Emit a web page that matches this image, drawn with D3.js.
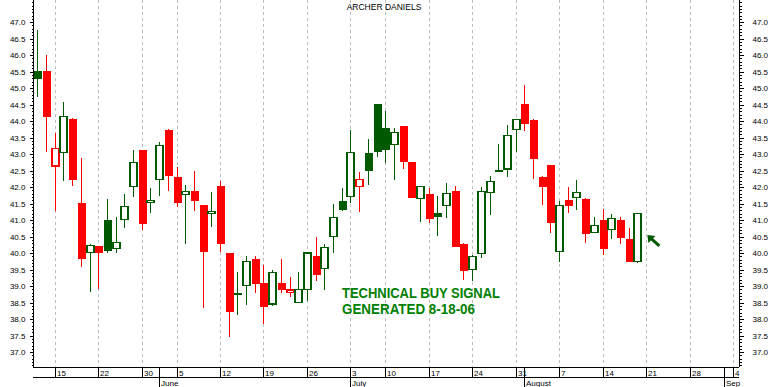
<!DOCTYPE html>
<html><head><meta charset="utf-8">
<script src="https://cdn.jsdelivr.net/npm/d3@7"></script>
<style>html,body{margin:0;padding:0;background:#fff;} svg{display:block;font-family:"Liberation Sans",Arial,sans-serif;}</style>
</head><body><svg id="c" width="770" height="387"></svg>
<script>
const dates = ["05-11","05-12","05-15","05-16","05-17","05-18","05-19","05-22","05-23","05-24","05-25","05-26","05-30","05-31",
"06-01","06-02","06-05","06-06","06-07","06-08","06-09","06-12","06-13","06-14","06-15","06-16","06-19","06-20","06-21","06-22","06-23","06-26","06-27","06-28","06-29","06-30",
"07-03","07-05","07-06","07-07","07-10","07-11","07-12","07-13","07-14","07-17","07-18","07-19","07-20","07-21","07-24","07-25","07-26","07-27","07-28","07-31",
"08-01","08-02","08-03","08-04","08-07","08-08","08-09","08-10","08-11","08-14","08-15","08-16","08-17","08-18"];
const opens = [45.52,45.52,42.64,43.05,44.06,41.52,40.02,40.21,41.00,40.14,41.02,42.02,43.12,41.54,
42.23,43.73,42.30,41.78,41.88,41.45,41.20,42.03,40.00,38.79,39.01,39.82,39.09,38.46,39.09,38.81,38.51,38.89,39.91,39.54,40.50,41.58,
41.72,42.02,43.03,44.52,43.79,43.29,43.85,42.76,41.66,41.78,41.23,41.45,41.88,40.27,39.51,39.99,41.84,42.52,42.55,43.75,
44.52,44.03,42.30,42.67,40.05,41.61,41.69,41.64,40.63,41.00,40.72,41.00,40.42,39.74];
const highs = [46.76,46.00,43.65,44.58,44.09,42.88,40.27,40.21,41.64,41.09,41.79,43.12,43.12,41.97,
43.36,43.76,42.61,42.06,42.48,41.45,41.85,42.18,40.00,39.42,39.90,39.90,39.65,39.50,39.82,39.27,39.42,40.02,40.48,40.27,41.48,41.97,
43.73,42.45,43.45,44.52,44.30,43.78,43.85,42.76,42.02,41.97,41.73,42.14,42.03,40.32,39.95,42.00,42.33,43.31,43.87,44.04,
45.09,44.06,42.33,42.67,41.59,42.00,42.21,41.67,41.09,41.33,41.18,41.09,40.76,41.23];
const lows = [44.74,43.07,41.28,42.19,42.04,39.58,38.83,38.91,40.01,40.01,40.77,41.71,40.70,41.22,
41.73,41.89,41.39,40.28,41.28,38.34,40.80,40.04,37.46,38.12,38.43,38.80,37.86,38.40,38.78,38.68,38.48,38.55,39.16,38.89,40.01,41.28,
41.52,41.25,42.07,42.92,42.74,42.23,42.55,41.66,40.95,40.92,40.52,41.07,40.20,39.19,39.16,39.86,41.16,42.45,42.32,43.07,
43.71,42.25,41.46,40.62,39.74,41.22,41.31,40.31,40.63,39.95,40.43,40.28,39.74,39.71];
const closes = [45.28,44.13,43.17,44.14,42.22,39.83,40.23,40.01,40.07,40.32,41.41,42.75,40.89,41.60,
43.26,42.34,41.52,41.87,41.58,40.04,41.26,40.28,38.22,38.74,39.75,39.06,38.36,39.41,38.89,38.88,38.90,40.00,39.34,40.17,41.09,41.31,
43.05,42.24,42.49,43.07,43.13,43.66,42.77,41.66,42.02,41.04,41.08,41.81,40.20,39.46,39.90,41.87,42.17,42.45,43.56,44.04,
43.92,42.86,42.01,40.92,41.45,41.43,41.84,40.59,40.84,40.13,41.05,40.46,39.74,41.20];
const priorClose = 45.20;
const futureDays = ["08-21","08-22","08-23","08-24","08-25","08-28","08-29","08-30","08-31","09-01","09-04"];
const weekTicks = ["05-15","05-22","05-30","06-05","06-12","06-19","06-26","07-03","07-10","07-17","07-24","07-31","08-07","08-14","08-21","08-28","09-04"];
const weekLabels = ["15","22","30","5","12","19","26","3","10","17","24","31","7","14","21","28","4"];
const monthStarts = ["06-01","07-03","08-01","09-01"];
const monthLabels = ["June","July","August","Sep"];
const title = "ARCHER DANIELS";
const noteLines = ["TECHNICAL BUY SIGNAL", "GENERATED 8-18-06"];

const GREEN = "#005a00", RED = "#ff0000", NOTE = "#008000";
const L = 33, R = 739, B = 367, B2 = 377;
const svg = d3.select("#c");
const allDays = dates.concat(futureDays);
const x = d3.scalePoint().domain(allDays).range([37.4, 733]);
const y = d3.scaleLinear().domain([36.55, 47.67]).range([B, 0]);

// gridlines
svg.append("g").selectAll("line").data(weekTicks).join("line")
  .attr("x1", d => Math.round(x(d)) + 0.5).attr("x2", d => Math.round(x(d)) + 0.5)
  .attr("y1", 0).attr("y2", B)
  .attr("stroke", "#bdbdbd").attr("stroke-dasharray", "3,3");

// y axes
const minor = d3.range(366, 477).map(v => v / 10);
const major = d3.range(74, 95).map(v => v / 2);
const fmt = d3.format(".1f");
function yAxes(axisFn, xpos, pad) {
  svg.append("g").attr("transform", `translate(${xpos + 0.5},0)`)
    .call(axisFn(y).tickValues(minor).tickSize(2).tickFormat(""))
    .call(g => g.select(".domain").remove());
  svg.append("g").attr("transform", `translate(${xpos + 0.5},0)`)
    .call(axisFn(y).tickValues(major).tickSize(4).tickPadding(pad).tickFormat(fmt))
    .call(g => g.select(".domain").remove())
    .call(g => g.selectAll("text").attr("font-size", 8).attr("fill", "#000").attr("font-family", "Liberation Sans, Arial"));
}
yAxes(d3.axisLeft, L, 4);
yAxes(d3.axisRight, R, 9);
svg.selectAll(".tick line").attr("stroke", "#000").attr("shape-rendering", "crispEdges");

// frame lines
const frame = svg.append("g").attr("stroke", "#000").attr("shape-rendering", "crispEdges");
frame.append("line").attr("x1", L + 0.5).attr("x2", L + 0.5).attr("y1", 0).attr("y2", B);
frame.append("line").attr("x1", R + 0.5).attr("x2", R + 0.5).attr("y1", 0).attr("y2", B);
frame.append("line").attr("x1", L).attr("x2", R).attr("y1", B + 0.5).attr("y2", B + 0.5);
frame.append("line").attr("x1", L).attr("x2", R).attr("y1", B2 + 0.5).attr("y2", B2 + 0.5);

// week ticks + labels
frame.selectAll(".wt").data(weekTicks).join("line")
  .attr("x1", d => Math.round(x(d)) + 0.5).attr("x2", d => Math.round(x(d)) + 0.5)
  .attr("y1", B).attr("y2", B2);
svg.append("g").selectAll("text").data(weekTicks).join("text")
  .attr("x", d => Math.round(x(d)) + 2).attr("y", B + 8.5)
  .attr("font-size", 8).text((d, i) => weekLabels[i]);
// month separators + labels
frame.selectAll(".ms").data(monthStarts).join("line")
  .attr("x1", d => Math.round(x(d)) + 0.5).attr("x2", d => Math.round(x(d)) + 0.5)
  .attr("y1", B).attr("y2", 387);
svg.append("g").selectAll("text").data(monthStarts).join("text")
  .attr("x", d => Math.round(x(d)) + 2).attr("y", B2 + 9)
  .attr("font-size", 8).text((d, i) => monthLabels[i]);

// title
svg.append("text").attr("x", 384).attr("y", 10).attr("text-anchor", "middle")
  .attr("font-size", 8.5).text(title);

// candles
const candles = dates.map((d, i) => {
  const prev = i === 0 ? priorClose : closes[i - 1];
  return {d, o: opens[i], h: highs[i], l: lows[i], c: closes[i],
    col: closes[i] >= prev ? GREEN : RED, filled: closes[i] < opens[i]};
});
const cg = svg.append("g").attr("shape-rendering", "crispEdges");
const cc = cg.selectAll("g").data(candles).join("g");
cc.append("line")
  .attr("x1", d => Math.round(x(d.d)) + 0.5).attr("x2", d => Math.round(x(d.d)) + 0.5)
  .attr("y1", d => y(d.h)).attr("y2", d => y(d.l))
  .attr("stroke", d => d.col).attr("stroke-width", 1);
cc.append("rect")
  .attr("x", d => Math.round(x(d.d)) - 3 + (d.filled ? -0.5 : 0))
  .attr("width", d => d.filled ? 8 : 7)
  .attr("y", d => y(Math.max(d.o, d.c)))
  .attr("height", d => Math.max(1.5, Math.abs(y(d.o) - y(d.c))))
  .attr("fill", d => d.filled ? d.col : "#fff")
  .attr("stroke", d => d.filled ? "none" : d.col)
  .attr("stroke-width", 1.3);

// note
svg.append("g").selectAll("text").data(noteLines).join("text")
  .attr("x", 342).attr("y", (d, i) => 297.5 + i * 16)
  .attr("font-size", 14.5).attr("font-weight", "bold").attr("fill", NOTE)
  .attr("textLength", (d, i) => i === 0 ? 158 : 133).attr("lengthAdjust", "spacingAndGlyphs")
  .text(d => d);

// arrow pointing to last candle
const last = candles[candles.length - 1];
const ax = x(last.d) + 10, ay = y(40.55);
svg.append("path")
  .attr("d", `M${ax},${ay} L${ax + 8},${ay + 1} L${ax + 1},${ay + 8} Z`)
  .attr("fill", GREEN);
svg.append("line").attr("x1", ax + 3).attr("y1", ay + 3).attr("x2", ax + 12).attr("y2", ay + 11)
  .attr("stroke", GREEN).attr("stroke-width", 3);
</script></body></html>
